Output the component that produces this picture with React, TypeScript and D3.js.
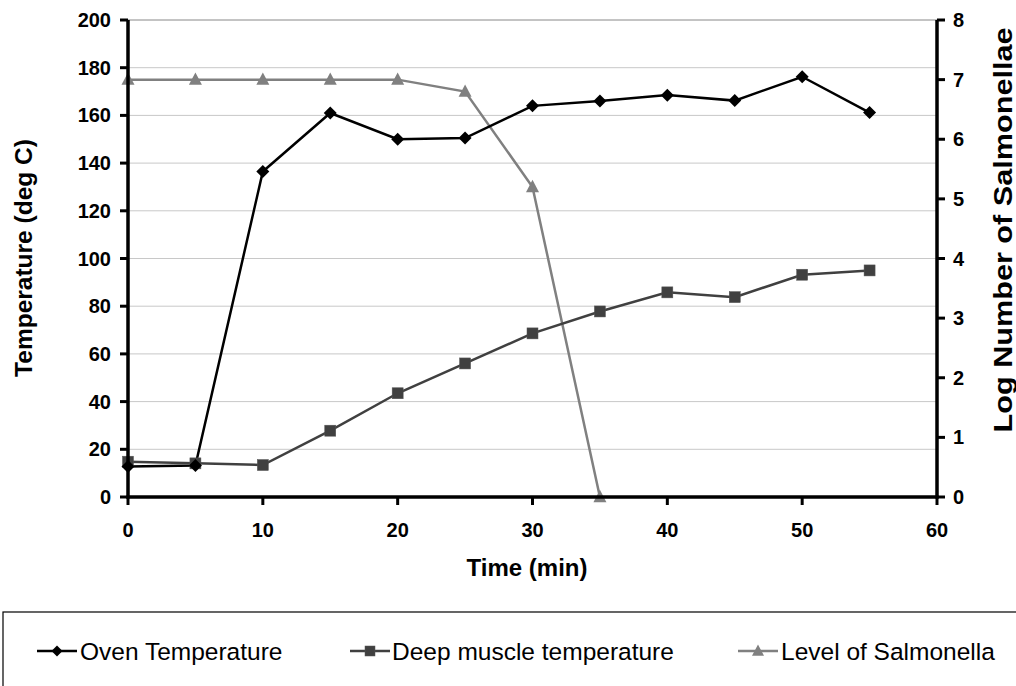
import React from "react";
import * as d3 from "d3";

const times = [0, 5, 10, 15, 20, 25, 30, 35, 40, 45, 50, 55];
const ovenTemp = [12.8, 13.2, 136.5, 161, 150, 150.5, 164, 166, 168.5, 166.2, 176.2, 161.2];
const deepMuscle = [14.8, 14.1, 13.4, 27.8, 43.5, 56, 68.6, 77.8, 85.8, 83.8, 93.2, 95];
const salmonellaTimes = [0, 5, 10, 15, 20, 25, 30, 35];
const salmonella = [7, 7, 7, 7, 7, 6.8, 5.2, 0];
const xTicks = [0, 10, 20, 30, 40, 50, 60];
const yTicks = [0, 20, 40, 60, 80, 100, 120, 140, 160, 180, 200];
const y2Ticks = [0, 1, 2, 3, 4, 5, 6, 7, 8];
const legendLabels = ["Oven Temperature", "Deep muscle temperature", "Level of Salmonella"];

const W = 1016, H = 686;
const L = 128, R = 937, T = 20, B = 497;
const FONT = "Liberation Sans, Arial, sans-serif";

export default function App() {
  const x = d3.scaleLinear().domain([0, 60]).range([L, R]);
  const y = d3.scaleLinear().domain([0, 200]).range([B, T]);
  const y2 = d3.scaleLinear().domain([0, 8]).range([B, T]);

  const lineL = d3.line<[number, number]>().x(d => x(d[0])).y(d => y(d[1]));
  const lineR = d3.line<[number, number]>().x(d => x(d[0])).y(d => y2(d[1]));

  const ovenPts: [number, number][] = times.map((t, i) => [t, ovenTemp[i]]);
  const deepPts: [number, number][] = times.map((t, i) => [t, deepMuscle[i]]);
  const salPts: [number, number][] = salmonellaTimes.map((t, i) => [t, salmonella[i]]);

  const diamond = (cx: number, cy: number, r = 6, fill = "#000", key?: any) => (
    <path key={key} d={`M${cx},${cy - r}L${cx + r},${cy}L${cx},${cy + r}L${cx - r},${cy}Z`} fill={fill} />
  );
  const square = (cx: number, cy: number, s = 11, fill = "#404040", key?: any) => (
    <rect key={key} x={cx - s / 2} y={cy - s / 2} width={s} height={s} fill={fill} stroke="#555" strokeWidth={0.5} />
  );
  const triangle = (cx: number, cy: number, s = 13, fill = "#808080", key?: any) => (
    <path key={key} d={`M${cx},${cy - s * 0.55}L${cx + s / 2},${cy + s * 0.4}L${cx - s / 2},${cy + s * 0.4}Z`} fill={fill} />
  );

  const legendY = 651;
  const legendItems = [
    { lx: 37, tx: 80, color: "#000", marker: (cx: number) => diamond(cx, legendY, 5.5, "#000") },
    { lx: 350, tx: 392, color: "#404040", marker: (cx: number) => square(cx, legendY, 10, "#404040") },
    { lx: 738, tx: 781, color: "#808080", marker: (cx: number) => triangle(cx, legendY, 12, "#808080") },
  ];

  return (
    <svg width={W} height={H} style={{ position: "absolute", left: 0, top: 0, background: "#fff" }} fontFamily={FONT}>
      <rect x={0} y={0} width={W} height={H} fill="#fff" />
      {yTicks.filter(v => v > 0).map(v => (
        <line key={"g" + v} x1={L} x2={R} y1={y(v)} y2={y(v)} stroke={v === 200 ? "#888" : "#c8c8c8"} strokeWidth={1} />
      ))}
      <path d={lineR(salPts) || ""} fill="none" stroke="#808080" strokeWidth={2.5} />
      <path d={lineL(deepPts) || ""} fill="none" stroke="#404040" strokeWidth={2.5} />
      <path d={lineL(ovenPts) || ""} fill="none" stroke="#000" strokeWidth={2.5} />
      {salPts.map((p, i) => triangle(x(p[0]), y2(p[1]), 13, "#808080", "t" + i))}
      {deepPts.map((p, i) => square(x(p[0]), y(p[1]), 11, "#404040", "s" + i))}
      {ovenPts.map((p, i) => diamond(x(p[0]), y(p[1]), 6.5, "#000", "d" + i))}

      <line x1={L} x2={L} y1={T} y2={B + 1.5} stroke="#000" strokeWidth={3.5} />
      <line x1={R} x2={R} y1={T} y2={B + 1.5} stroke="#000" strokeWidth={3.5} />
      <line x1={L - 1.5} x2={R + 1.5} y1={B} y2={B} stroke="#000" strokeWidth={3.5} />
      {yTicks.map(v => (
        <g key={"yl" + v}>
          <line x1={L - 8} x2={L} y1={y(v)} y2={y(v)} stroke="#000" strokeWidth={3} />
          <text x={111} y={y(v)} dy="0.35em" textAnchor="end" fontSize={20} fontWeight="bold">{v}</text>
        </g>
      ))}
      {y2Ticks.map(v => (
        <g key={"yr" + v}>
          <line x1={R} x2={R + 8} y1={y2(v)} y2={y2(v)} stroke="#000" strokeWidth={3} />
          <text x={953} y={y2(v)} dy="0.35em" textAnchor="start" fontSize={20} fontWeight="bold">{v}</text>
        </g>
      ))}
      {xTicks.map(v => (
        <g key={"xt" + v}>
          <line x1={x(v)} x2={x(v)} y1={B} y2={B + 8} stroke="#000" strokeWidth={3} />
          <text x={x(v)} y={530} dy="0.35em" textAnchor="middle" fontSize={20} fontWeight="bold">{v}</text>
        </g>
      ))}
      <text x={527} y={567.5} dy="0.35em" textAnchor="middle" fontSize={24} fontWeight="bold">Time (min)</text>
      <text transform={`translate(23,258) rotate(-90)`} dy="0.35em" textAnchor="middle" fontSize={24.5} fontWeight="bold">Temperature (deg C)</text>
      <text transform={`translate(1003,230) rotate(-90)`} dy="0.35em" textAnchor="middle" fontSize={25.5} fontWeight="bold"
        textLength={405} lengthAdjust="spacingAndGlyphs">Log Number of Salmonellae</text>

      <rect x={3} y={612} width={1030} height={100} fill="#fff" stroke="#000" strokeWidth={1.2} />
      {legendItems.map((it, i) => (
        <g key={"lg" + i}>
          <line x1={it.lx} x2={it.lx + 40} y1={legendY} y2={legendY} stroke={it.color} strokeWidth={2.5} />
          {it.marker(it.lx + 20)}
          <text x={it.tx} y={legendY + 0.5} dy="0.35em" fontSize={24.5}>{legendLabels[i]}</text>
        </g>
      ))}
    </svg>
  );
}
